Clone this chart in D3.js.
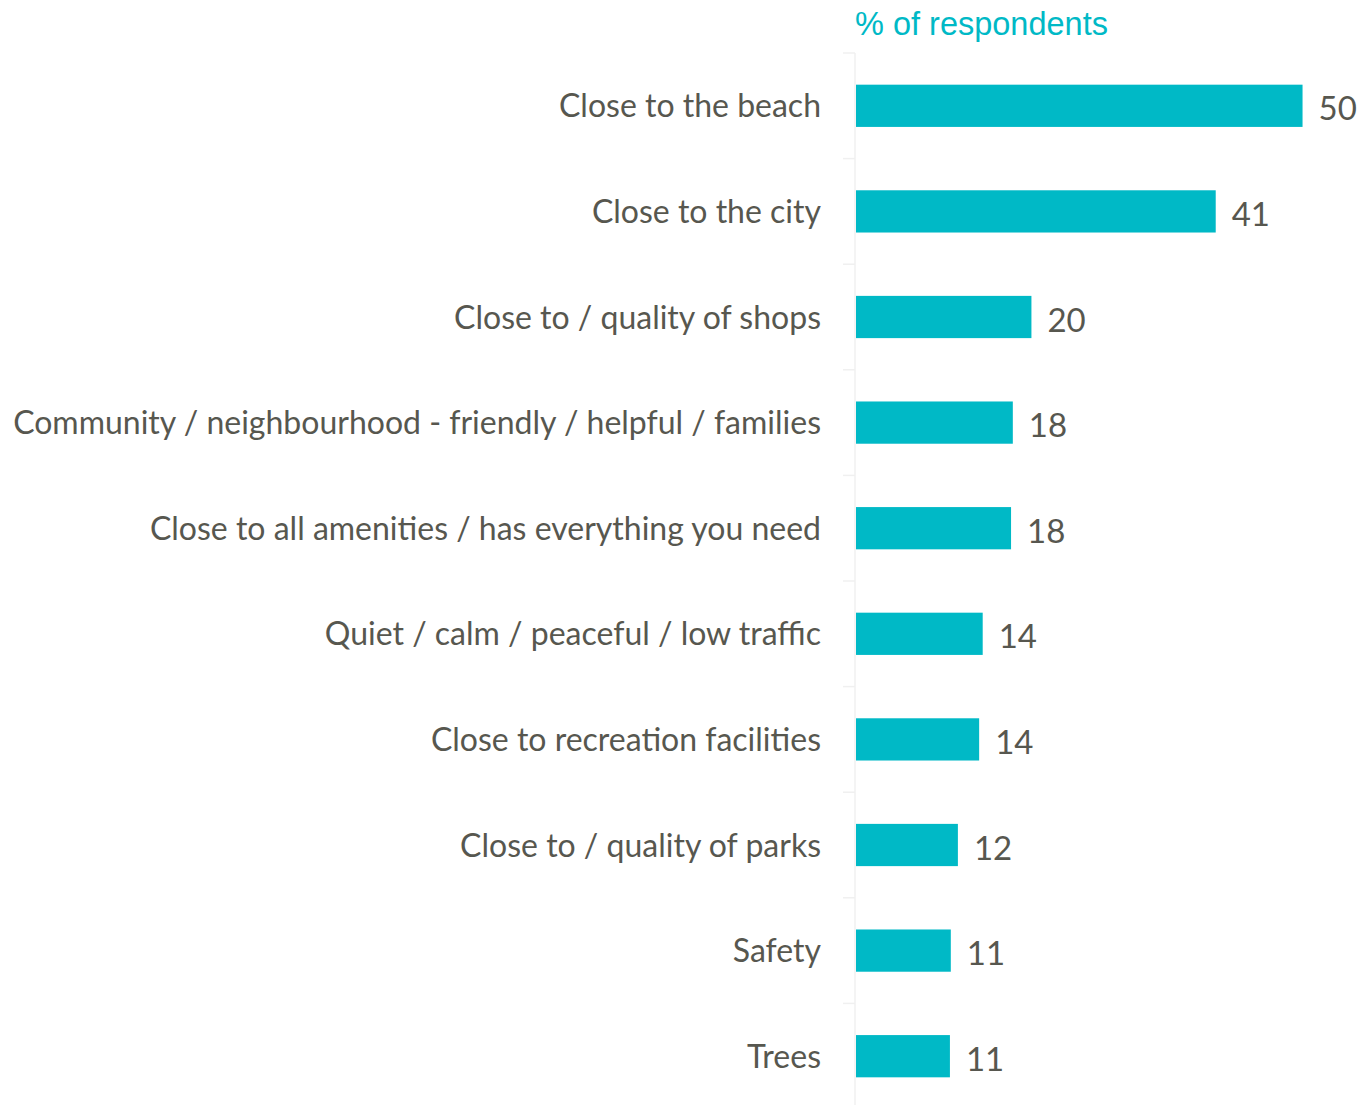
<!DOCTYPE html>
<html>
<head>
<meta charset="utf-8">
<script src="https://cdn.jsdelivr.net/npm/d3@7"></script>
<style>
  body { margin: 0; background: #fff; }
  svg { display: block; }
</style>
</head>
<body>
<svg id="chart" width="1360" height="1105"></svg>
<script>
var categories = [
    'Close to the beach',
    'Close to the city',
    'Close to / quality of shops',
    'Community / neighbourhood - friendly / helpful / families',
    'Close to all amenities / has everything you need',
    'Quiet / calm / peaceful / low traffic',
    'Close to recreation facilities',
    'Close to / quality of parks',
    'Safety',
    'Trees'
];

// % of respondents (labels show rounded value)
var values = [50.4, 40.6, 19.8, 17.7, 17.5, 14.3, 13.9, 11.5, 10.7, 10.6];

var axisTitle = '% of respondents';

var teal = '#00b9c6';
var textColor = '#57574f';

var svg = d3.select('#chart');

var xScale = d3.scaleLinear()
    .domain([0, 50])
    .range([856, 856 + 443]);

var yScale = d3.scaleBand()
    .domain(categories)
    .range([53, 53 + 1056])
    .paddingInner(0.6)
    .paddingOuter(0.3);

var gap = (yScale.step() - yScale.bandwidth()) / 2;

// faint axis line + ticks between categories
svg.append('line')
    .attr('x1', 855).attr('x2', 855)
    .attr('y1', 53).attr('y2', 1105)
    .attr('stroke', '#f0f0f0')
    .attr('stroke-width', 1.5);

svg.selectAll('.tick-mark')
    .data(categories)
    .enter()
    .append('line')
    .attr('class', 'tick-mark')
    .attr('x1', 843).attr('x2', 855)
    .attr('y1', d => yScale(d) - gap)
    .attr('y2', d => yScale(d) - gap)
    .attr('stroke', '#f0f0f0')
    .attr('stroke-width', 1.5);

// bars
svg.selectAll('.bar')
    .data(values)
    .enter()
    .append('rect')
    .attr('class', 'bar')
    .attr('x', xScale(0))
    .attr('y', (d, i) => yScale(categories[i]))
    .attr('width', d => xScale(d) - xScale(0))
    .attr('height', yScale.bandwidth())
    .attr('fill', teal);

// value labels
svg.selectAll('.val')
    .data(values)
    .enter()
    .append('text')
    .attr('class', 'val')
    .attr('x', d => xScale(d) + 16)
    .attr('y', (d, i) => yScale(categories[i]) + yScale.bandwidth() / 2 + 1.5)
    .attr('dominant-baseline', 'central')
    .style('font-family', 'Lato, sans-serif')
    .style('font-size', '33px')
    .style('fill', textColor)
    .text(d => d3.format('.0f')(d));

// category labels
svg.selectAll('.cat')
    .data(categories)
    .enter()
    .append('text')
    .attr('class', 'cat')
    .attr('x', 821)
    .attr('y', d => yScale(d) + yScale.bandwidth() / 2 - 1)
    .attr('text-anchor', 'end')
    .attr('dominant-baseline', 'central')
    .style('font-family', 'Lato, sans-serif')
    .style('font-size', '32px')
    .style('fill', textColor)
    .text(d => d);

// title
svg.append('text')
    .attr('x', 855)
    .attr('y', 35)
    .style('font-family', '"Liberation Sans", Arial, sans-serif')
    .style('font-size', '32.5px')
    .style('fill', teal)
    .text(axisTitle);
</script>
</body>
</html>
